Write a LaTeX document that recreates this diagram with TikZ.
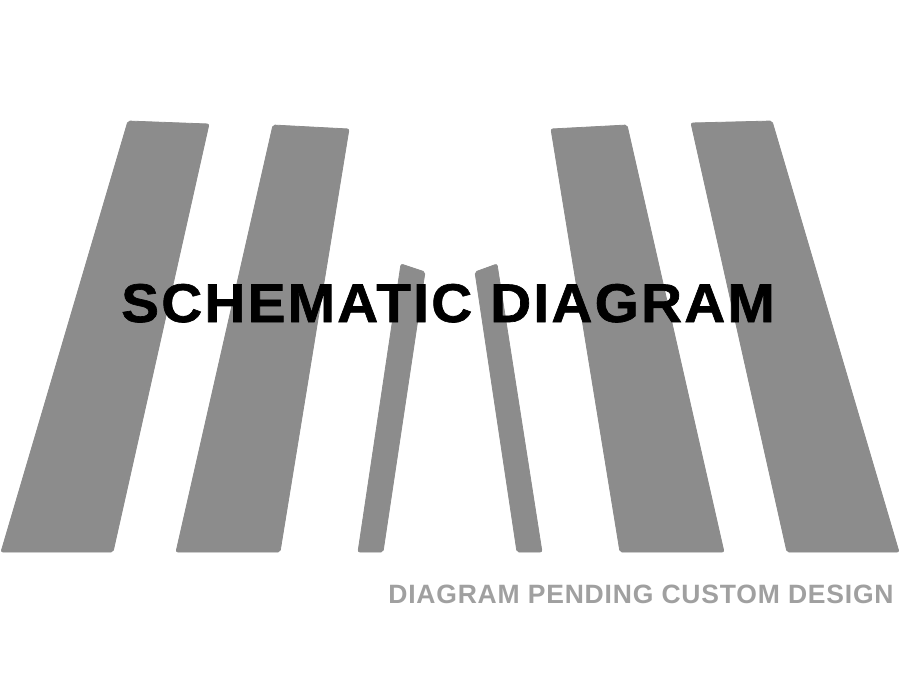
\documentclass[tikz,border=0pt]{standalone}
\usepackage{fontspec}
\setmainfont{Liberation Sans}
\newfontfamily\titlefont[LetterSpace=4.2,FakeStretch=1.04,FakeBold=1.2]{Liberation Sans Bold}
\newfontfamily\notefont[LetterSpace=3]{Liberation Sans Bold}
\definecolor{pillar}{HTML}{8C8C8C}
\definecolor{note}{HTML}{A0A0A0}
\begin{document}
\begin{tikzpicture}[x=1pt,y=-1pt,
  pillar/.style={fill=pillar,draw=pillar,line width=0.8pt,rounded corners=2pt},
  titletext/.style={anchor=base,inner sep=0pt,font=\titlefont\fontsize{54.5}{60}\selectfont,text=black},
  notetext/.style={anchor=base,inner sep=0pt,font=\notefont\fontsize{26.5}{30}\selectfont,text=note}]
\useasboundingbox (0,0) rectangle (900,675);
\fill[white] (0,0) rectangle (900,675);
% pillars
\draw[pillar] (128,121) -- (209,124) -- (113,552) -- (1,552) -- cycle;
\draw[pillar] (273,125) -- (349,129) -- (280,552) -- (176,552) -- cycle;
\draw[pillar] (401,264) -- (425,272) -- (383,552) -- (358,552) -- cycle;
\draw[pillar] (475,272) -- (497,264) -- (542,552) -- (517,552) -- cycle;
\draw[pillar] (551,129) -- (627,125) -- (724,552) -- (620,552) -- cycle;
\draw[pillar] (691,123) -- (772,121) -- (899,552) -- (787,552) -- cycle;
% texts
\node[titletext] (title) at (448,322) {SCHEMATIC DIAGRAM};
\node[notetext] (note) at (641,603) {DIAGRAM PENDING CUSTOM DESIGN};
\end{tikzpicture}
\end{document}
